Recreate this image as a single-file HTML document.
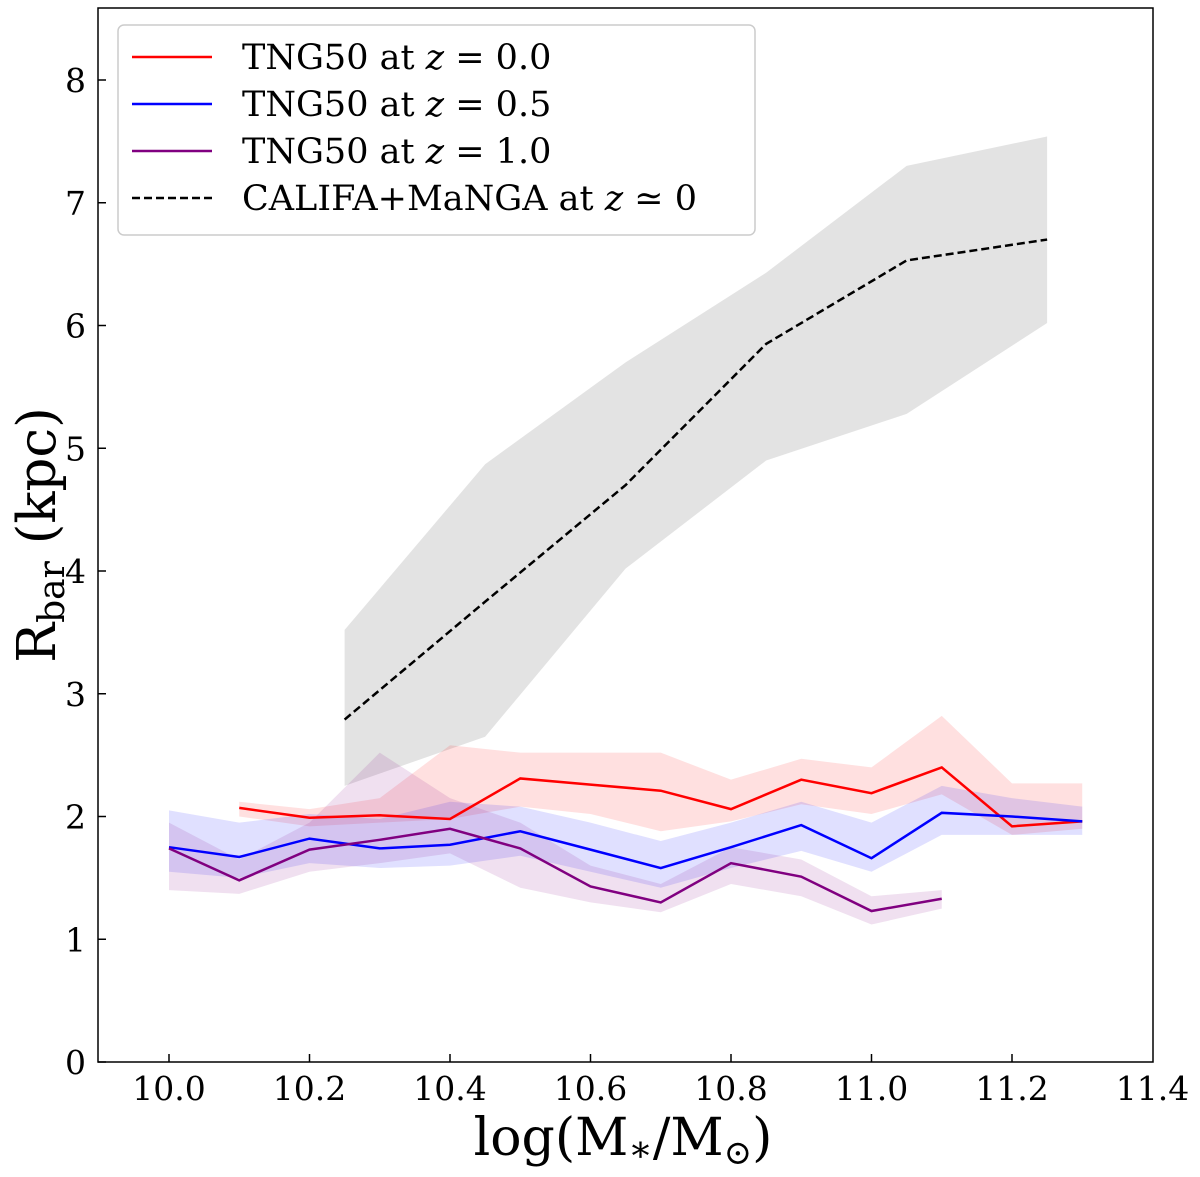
<!DOCTYPE html>
<html><head><meta charset="utf-8"><style>
html,body{margin:0;padding:0;background:#fff}
svg text{font-family:"DejaVu Serif","Liberation Serif",serif;fill:#000}
</style></head><body>
<svg id="chart" width="1200" height="1172" viewBox="0 0 1200 1172" xmlns="http://www.w3.org/2000/svg"></svg>
<script>
const xTicks=[10.0,10.2,10.4,10.6,10.8,11.0,11.2,11.4];
const yTicks=[0,1,2,3,4,5,6,7,8];
const redX=[10.1,10.2,10.3,10.4,10.5,10.6,10.7,10.8,10.9,11.0,11.1,11.2,11.3];
const redY=[2.07,1.99,2.01,1.98,2.31,2.26,2.21,2.06,2.30,2.19,2.40,1.92,1.96];
const redHi=[2.12,2.06,2.15,2.58,2.52,2.52,2.52,2.30,2.47,2.40,2.82,2.27,2.27];
const redLo=[2.00,1.92,1.95,1.98,2.08,2.02,1.88,1.96,2.10,2.02,2.18,1.85,1.90];
const blueX=[10.0,10.1,10.2,10.3,10.4,10.5,10.6,10.7,10.8,10.9,11.0,11.1,11.2,11.3];
const blueY=[1.75,1.67,1.82,1.74,1.77,1.88,1.73,1.58,1.75,1.93,1.66,2.03,2.00,1.96];
const blueHi=[2.05,1.95,2.02,1.98,2.12,2.08,1.95,1.80,1.95,2.12,1.95,2.25,2.15,2.08];
const blueLo=[1.55,1.50,1.62,1.58,1.60,1.68,1.55,1.42,1.58,1.72,1.55,1.85,1.85,1.85];
const purpX=[10.0,10.1,10.2,10.3,10.4,10.5,10.6,10.7,10.8,10.9,11.0,11.1];
const purpY=[1.74,1.48,1.73,1.81,1.90,1.74,1.43,1.30,1.62,1.51,1.23,1.33];
const purpHi=[1.95,1.65,1.95,2.52,2.15,1.95,1.60,1.45,1.75,1.65,1.35,1.40];
const purpLo=[1.40,1.37,1.55,1.62,1.70,1.42,1.30,1.22,1.45,1.35,1.12,1.25];
const obsX=[10.25,10.45,10.65,10.85,11.05,11.25];
const obsY=[2.79,3.75,4.70,5.85,6.53,6.70];
const obsHi=[3.52,4.87,5.70,6.43,7.30,7.54];
const obsLo=[2.25,2.65,4.02,4.90,5.28,6.02];

const L=98,R=1153,T=8,B=1062;
const xs=v=>169+(v-10)*702.5;
const ys=v=>1062-v*122.75;
const svg=document.getElementById('chart');
const NS='http://www.w3.org/2000/svg';
function mk(tag,attrs,parent){const e=document.createElementNS(NS,tag);for(const k in attrs)e.setAttribute(k,attrs[k]);(parent||svg).appendChild(e);return e;}
function band(X,hi,lo,fill,op,name){
  let d='M'+X.map((x,i)=>xs(x)+','+ys(hi[i])).join('L');
  for(let i=X.length-1;i>=0;i--)d+='L'+xs(X[i])+','+ys(lo[i]);
  const p=mk('path',{d:d+'Z',fill:fill,'fill-opacity':op,stroke:'none'});
  
  
}
function line(X,Y,col,name,dash){
  const p=mk('polyline',{points:X.map((x,i)=>xs(x)+','+ys(Y[i])).join(' '),fill:'none',stroke:col,'stroke-width':2.5});
  if(dash)p.setAttribute('stroke-dasharray',dash);
  
  
}
band(obsX,obsHi,obsLo,'#c8c8c8',0.5,'obs-band');
band(redX,redHi,redLo,'#ff0000',0.12,'red-band');
band(blueX,blueHi,blueLo,'#0000ff',0.12,'blue-band');
band(purpX,purpHi,purpLo,'#800080',0.12,'purple-band');
line(redX,redY,'#ff0000','tng50-z0-line');
line(blueX,blueY,'#0000ff','tng50-z05-line');
line(purpX,purpY,'#800080','tng50-z1-line');
line(obsX,obsY,'#000','califa-manga-line','8,4');
const fr=mk('rect',{x:L,y:T,width:R-L,height:B-T,fill:'none',stroke:'#000','stroke-width':1.5});

xTicks.forEach(v=>{
  const x=xs(v);
  if(x<R-2){mk('line',{x1:x,x2:x,y1:B,y2:B-8,stroke:'#000','stroke-width':1.5});}
  const t=mk('text',{x:x,y:B+38,'text-anchor':'middle','font-size':33});t.textContent=v.toFixed(1);
  
});
yTicks.forEach(v=>{
  const y=ys(v);
  mk('line',{x1:L,x2:L+8,y1:y,y2:y,stroke:'#000','stroke-width':1.5});
  const t=mk('text',{x:L-12,y:y+12,'text-anchor':'end','font-size':33});t.textContent=v;
  
});
</script>
<svg style="position:absolute;left:0;top:0" width="1200" height="1172" xmlns="http://www.w3.org/2000/svg">
<text x="623" y="1155" text-anchor="middle" font-size="52">log(M<tspan font-size="36" dy="6">∗</tspan><tspan dy="-6">/M</tspan><tspan font-size="34" dy="9">⊙</tspan><tspan dy="-9">)</tspan></text>
<text transform="translate(55,535) rotate(-90)" text-anchor="middle" font-size="53">R<tspan font-size="36" dy="9">bar</tspan><tspan dy="-9"> (kpc)</tspan></text>
<g>
<rect x="118" y="25" width="637" height="210" rx="6" fill="#fff" fill-opacity="0.85" stroke="#ccc" stroke-width="1.5"/>
<line x1="132" x2="212" y1="57" y2="57" stroke="#f00" stroke-width="2.5"/>
<text x="242" y="69" font-size="35">TNG50 at <tspan font-style="italic">z</tspan> = 0.0</text>
<line x1="132" x2="212" y1="104" y2="104" stroke="#00f" stroke-width="2.5"/>
<text x="242" y="116" font-size="35">TNG50 at <tspan font-style="italic">z</tspan> = 0.5</text>
<line x1="132" x2="212" y1="151" y2="151" stroke="#800080" stroke-width="2.5"/>
<text x="242" y="163" font-size="35">TNG50 at <tspan font-style="italic">z</tspan> = 1.0</text>
<line x1="132" x2="212" y1="198" y2="198" stroke="#000" stroke-width="2.5" stroke-dasharray="8,4"/>
<text x="242" y="210" font-size="35">CALIFA+MaNGA at <tspan font-style="italic">z</tspan> ≃ 0</text>
</g>
</svg>
</body></html>
